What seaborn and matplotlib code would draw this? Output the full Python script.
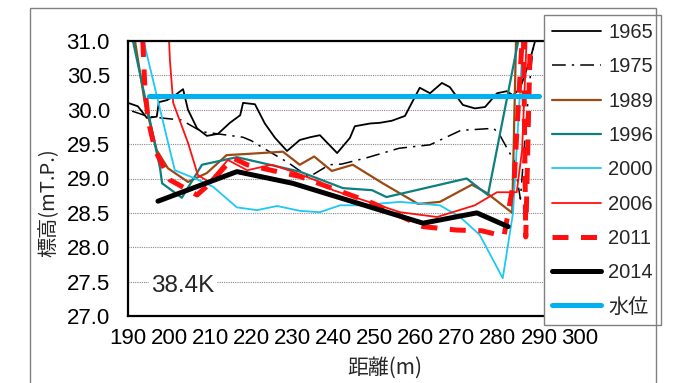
import matplotlib
matplotlib.use("Agg")
import matplotlib.pyplot as plt
import matplotlib.patches as mpatches
import seaborn as sns
import pandas as pd

# ---- data ----
x1965 = [190, 192.4, 194.6, 197, 197.5, 199.5, 201, 203.4, 204.6, 206.8, 209.2, 211.9, 214.8, 217.3, 218,
         220.9, 223.3, 225.8, 228.7, 231.8, 234.3, 236.7, 240.9, 244, 245.2, 248.9, 251.3, 254.2, 257.4,
         261, 263.5, 266.4, 268.3, 271.5, 274.4, 276.9, 279.8, 282.2, 283.7, 285.4, 287.8, 289.3]
y1965 = [30.10, 30.05, 29.88, 29.90, 30.11, 30.14, 30.19, 30.30, 30.00, 29.73, 29.62, 29.65, 29.81, 29.92, 30.10,
         30.08, 29.80, 29.59, 29.40, 29.56, 29.60, 29.63, 29.37, 29.59, 29.76, 29.80, 29.81, 29.84, 29.91,
         30.32, 30.24, 30.39, 30.33, 30.07, 30.02, 30.04, 30.24, 30.27, 30.21, 30.31, 30.72, 31.05]

x1975 = [191, 195, 203, 208, 218, 220, 223, 229, 234, 239, 242, 248, 256, 263.5, 271, 279, 280.5, 284, 285.5, 287, 289]
y1975 = [29.98, 29.90, 29.85, 29.68, 29.60, 29.55, 29.44, 29.23, 29.02, 29.20, 29.21, 29.30, 29.44, 29.49, 29.70,
         29.73, 29.63, 29.25, 28.70, 29.90, 31.20]

x1989 = [191.7, 194.1, 197, 199.7, 204.6, 209.2, 214, 219.7, 227.7, 231.8, 235.3, 239.6, 244.7, 252, 260.6,
         265.9, 273.7, 277.3, 283.5, 284.5]
y1989 = [31.0, 30.1, 29.41, 29.15, 28.95, 29.08, 29.34, 29.36, 29.39, 29.20, 29.32, 29.11, 29.20, 28.93, 28.63,
         28.66, 28.91, 28.79, 28.50, 31.2]

x1996 = [190.5, 197.8, 198.3, 203.1, 208, 216.5, 231.8, 242.3, 249.4, 252.9, 272.4, 277.6, 285.3]
y1996 = [31.2, 29.15, 28.93, 28.72, 29.20, 29.31, 29.10, 28.86, 28.83, 28.73, 29.00, 28.76, 31.1]

x2000 = [193.8, 200.2, 201.4, 206.3, 210.7, 216.5, 221.4, 226.3, 231.8, 236.7, 241.6, 246.4, 256.2, 265.9,
         270.8, 275.6, 281.2, 283.7, 286.1]
y2000 = [31.0, 29.41, 29.12, 29.00, 28.88, 28.58, 28.54, 28.60, 28.53, 28.51, 28.61, 28.61, 28.66, 28.61,
         28.44, 28.18, 27.55, 28.50, 31.0]

x2006 = [200, 200.2, 201, 204.6, 207, 209.7, 214.3, 219, 225, 230.1, 236.7, 239.9, 256.2, 265.2, 274.4,
         279.8, 284.6, 285.9, 287]
y2006 = [31.0, 30.72, 30.10, 29.52, 29.05, 28.95, 29.27, 29.12, 29.20, 29.10, 28.95, 28.83, 28.51, 28.44, 28.61,
         28.80, 28.80, 29.41, 31.0]

x2011 = [193.6, 194.1, 194.9, 196.6, 197.8, 200.2, 206.8, 210, 215.5, 219, 226.3, 231.8, 242.3, 249.6, 261.8,
         270, 276.1, 281.5, 284, 285.5, 286.2, 286.8, 288]
y2011 = [31.0, 30.33, 29.85, 29.41, 29.27, 28.98, 28.76, 28.93, 29.30, 29.20, 29.10, 29.03, 28.80, 28.64, 28.30,
         28.25, 28.24, 28.16, 29.00, 30.60, 31.3, 28.15, 31.3]

x2014 = [197.3, 216.5, 230.1, 261.8, 274.9, 282.5]
y2014 = [28.67, 29.10, 28.93, 28.35, 28.50, 28.30]

xwater = [195, 290]
ywater = [30.2, 30.2]

xticks = [190, 200, 210, 220, 230, 240, 250, 260, 270, 280, 290, 300]
yticks = [27.0, 27.5, 28.0, 28.5, 29.0, 29.5, 30.0, 30.5, 31.0]

series = [
    ("1965", x1965, y1965, dict(color="black", lw=1.3, ls="-")),
    ("1975", x1975, y1975, dict(color="black", lw=1.1, ls=(0, (9, 4, 1.5, 4)))),
    ("1989", x1989, y1989, dict(color="#9C4A14", lw=1.6, ls="-")),
    ("1996", x1996, y1996, dict(color="#0E7F7F", lw=1.6, ls="-")),
    ("2000", x2000, y2000, dict(color="#1CC8F5", lw=1.3, ls="-")),
    ("2006", x2006, y2006, dict(color="#FF1010", lw=1.3, ls="-")),
    ("2011", x2011, y2011, dict(color="#FF1010", lw=3.6, ls=(0, (3.2, 2.5)))),
    ("2014", x2014, y2014, dict(color="black", lw=3.6, ls="-")),
    ("水位", xwater, ywater, dict(color="#00B0F0", lw=3.6, ls="-")),
]

sns.set_style("white")
plt.rcParams["font.family"] = ["Liberation Sans", "Noto Sans CJK JP", "DejaVu Sans"]

W, H = 678, 383
fig = plt.figure(figsize=(W / 100, H / 100), dpi=100)
ax = fig.add_axes([128 / W, 1 - 316 / H, (580 - 128) / W, (316 - 41) / H])

for name, xs, ys, st in series:
    df = pd.DataFrame({"x": xs, "y": ys})
    sns.lineplot(data=df, x="x", y="y", ax=ax, sort=False, estimator=None,
                 color=st["color"], linewidth=st["lw"], linestyle=st["ls"], label=name)

ax.set_xlim(190, 300)
ax.set_ylim(27, 31)
ax.set_xticks(xticks)
ax.set_yticks(yticks)
ax.set_xticklabels([str(v) for v in xticks])
ax.set_yticklabels([f"{v:.1f}" for v in yticks])
ax.tick_params(axis="x", direction="in", length=5, width=1, labelsize=16, pad=9, colors="black")
ax.tick_params(axis="y", direction="in", length=5, width=1, labelsize=16, pad=13, colors="black")
ax.yaxis.grid(True, linestyle=(0, (1, 1)), color="#888888", linewidth=0.8)
ax.xaxis.grid(False)
ax.set_axisbelow(True)
for sp in ax.spines.values():
    sp.set_color("black")
    sp.set_linewidth(1.6)
ax.set_xlabel("")
ax.set_ylabel("")

ax.text(203.4, 27.44, "38.4K", fontsize=17.5, ha="center", va="center",
        bbox=dict(facecolor="white", edgecolor="none", pad=2), zorder=4)

fig.text(49 / W, 1 - 203 / H, "標高(mT.P.)", rotation=90, ha="center", va="center",
         fontsize=14.5, family=["Noto Sans CJK JP", "DejaVu Sans"])
fig.text(385 / W, 1 - 368 / H, "距離(m)", ha="center", va="center",
         fontsize=15, family=["Noto Sans CJK JP", "DejaVu Sans"])

leg = ax.legend(loc="upper left", bbox_to_anchor=(544 / W, 1 - 15 / H), bbox_transform=fig.transFigure,
                borderaxespad=0, fontsize=14.5, frameon=True, fancybox=False, framealpha=1,
                edgecolor="#808080", handlelength=2.45, handletextpad=0.35, borderpad=0.4,
                labelspacing=0.76)
leg.get_frame().set_linewidth(1.0)
leg.set_zorder(10)

frame = mpatches.Rectangle((30 / W, -0.1), (656 - 30) / W, 1 - 8 / H + 0.1, transform=fig.transFigure,
                           fill=False, edgecolor="#808080", linewidth=1.0)
fig.add_artist(frame)

fig.savefig("out.png", dpi=100)
